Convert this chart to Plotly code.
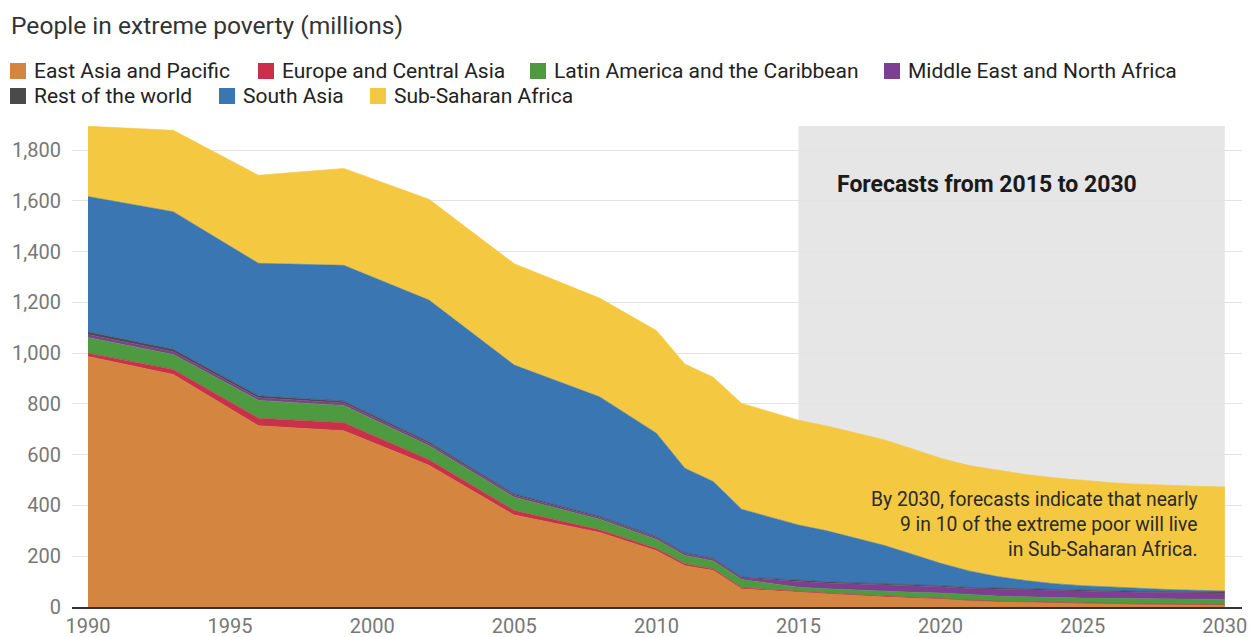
import plotly.graph_objects as go

# ---------------- data (millions of people) ----------------
years = [1990, 1993, 1996, 1999, 2002, 2005, 2008, 2010, 2011, 2012, 2013,
         2015, 2016, 2017, 2018, 2019, 2020, 2021, 2022, 2023, 2024, 2025,
         2026, 2027, 2028, 2029, 2030]

east_asia_pacific = [987, 916, 714, 694, 558, 362, 294, 222, 163, 144, 71,
                     58, 52, 46, 40, 35, 31, 25, 21, 18, 16, 14, 12, 10, 9, 8, 7]
europe_central_asia = [13, 20, 30, 32, 22, 18, 10, 8, 7, 6, 5,
                       3, 3, 3, 3, 3, 3, 2, 2, 2, 2, 2, 2, 2, 2, 2, 2]
latin_america_caribbean = [62, 59, 70, 68, 55, 52, 42, 36, 33, 31, 32,
                           17, 17, 18, 19, 20, 21, 21, 20, 20, 19, 19, 20, 21, 21, 21, 21]
middle_east_north_africa = [12, 11, 10, 10, 9, 8, 7, 7, 7, 8, 8,
                            22, 23, 24, 25, 25, 25, 25, 27, 27, 27, 26, 26, 25, 25, 25, 25]
rest_of_world = [9, 9, 8, 7, 6, 5, 4, 4, 3, 3, 2,
                 4, 4, 4, 4, 4, 4, 4, 4, 4, 4, 4, 4, 4, 4, 4, 4]
south_asia = [534, 542, 522, 535, 559, 508, 471, 408, 334, 302, 267,
              219, 201, 177, 152, 121, 88, 65, 46, 33, 24, 19, 14, 11, 8, 6, 4]
sub_saharan_africa = [277, 321, 347, 382, 397, 399, 389, 404, 410, 411, 417,
                      413, 413, 415, 416, 415, 414, 415, 418, 418, 417, 414, 412, 411, 410, 410, 410]

series_names = ["East Asia and Pacific", "Europe and Central Asia",
                "Latin America and the Caribbean", "Middle East and North Africa",
                "Rest of the world", "South Asia", "Sub-Saharan Africa"]
series_values = [east_asia_pacific, europe_central_asia, latin_america_caribbean,
                 middle_east_north_africa, rest_of_world, south_asia, sub_saharan_africa]
series_colors = ["#D4853F", "#C9304A", "#4E9A41", "#7C3F92", "#4A4A4A", "#3A76B1", "#F5C842"]

x_ticks = [1990, 1995, 2000, 2005, 2010, 2015, 2020, 2025, 2030]
y_ticks = [0, 200, 400, 600, 800, 1000, 1200, 1400, 1600, 1800]

forecast_start, forecast_end = 2015, 2030

# ---------------- layout geometry (pixels) ----------------
W, H = 1250, 637
PL, PR = 72, 1242      # plot area left / right
PT, PB = 126, 607      # plot area top / bottom
pw, ph = PR - PL, PB - PT
px_per_year = 28.42
x_min = 1990 - (88 - PL) / px_per_year
x_max = x_min + pw / px_per_year


def px(x):
    return (x - PL) / pw


def py(y):
    return (PB - y) / ph


FONT = "Roboto"

fig = go.Figure()
for name, vals, col in zip(series_names, series_values, series_colors):
    fig.add_trace(go.Scatter(
        x=years, y=vals, name=name, mode="lines", stackgroup="one",
        line=dict(width=0.6, color=col), fillcolor=col, showlegend=False,
        hoverinfo="x+y+name"))

shapes = [dict(type="rect", xref="x", yref="paper", x0=forecast_start, x1=forecast_end,
               y0=0, y1=1, fillcolor="#E6E6E6", line=dict(width=0), layer="below")]
annotations = []

# title
annotations.append(dict(text="People in extreme poverty (millions)", xref="paper", yref="paper",
                        x=px(9), y=py(25), xanchor="left", yanchor="middle", showarrow=False,
                        font=dict(family=FONT, size=24.6, color="#333333")))

# custom legend
legend_items = [
    (0, 10, 71), (1, 258, 71), (2, 530, 71), (3, 884, 71),
    (4, 10, 96), (5, 219, 96), (6, 370, 96),
]
for idx, lx, ly in legend_items:
    shapes.append(dict(type="rect", xref="paper", yref="paper",
                       x0=px(lx), x1=px(lx + 16), y0=py(ly + 8), y1=py(ly - 8),
                       fillcolor=series_colors[idx], line=dict(width=0)))
    annotations.append(dict(text=series_names[idx], xref="paper", yref="paper",
                            x=px(lx + 22), y=py(ly), xanchor="left", yanchor="middle",
                            showarrow=False, font=dict(family=FONT, size=21, color="#222222")))

# forecast label
annotations.append(dict(text="<b>Forecasts from 2015 to 2030</b>", xref="paper", yref="paper",
                        x=px(835), y=py(185), xanchor="left", yanchor="middle", showarrow=False,
                        font=dict(family=FONT, size=23, color="#1a1a1a")))

# note
note_lines = ["By 2030, forecasts indicate that nearly",
              "9 in 10 of the extreme poor will live",
              "in Sub-Saharan Africa."]
for i, line in enumerate(note_lines):
    annotations.append(dict(text=line, xref="paper", yref="paper",
                            x=px(1200), y=py(500 + i * 24.5), xanchor="right", yanchor="middle",
                            showarrow=False, font=dict(family=FONT, size=19.3, color="#2a2a2a")))

fig.update_layout(
    width=W, height=H,
    margin=dict(l=PL, r=W - PR, t=PT, b=H - PB, pad=0, autoexpand=False),
    paper_bgcolor="white", plot_bgcolor="white",
    font=dict(family=FONT),
    shapes=shapes, annotations=annotations,
    showlegend=False,
    xaxis=dict(range=[x_min, x_max], tickvals=x_ticks, showgrid=False, zeroline=False,
               showline=True, linecolor="#333333", linewidth=2, automargin=False,
               ticks="", tickfont=dict(family=FONT, size=20, color="#777777"),
               ticklabelstandoff=0),
    yaxis=dict(range=[0, 1895], tickvals=y_ticks, tickformat=",", showgrid=True,
               gridcolor="#E3E3E3", gridwidth=1, zeroline=False, showline=False, ticks="",
               automargin=False,
               tickfont=dict(family=FONT, size=20, color="#777777"), ticklabelstandoff=10),
)

fig.write_html("out.html")
